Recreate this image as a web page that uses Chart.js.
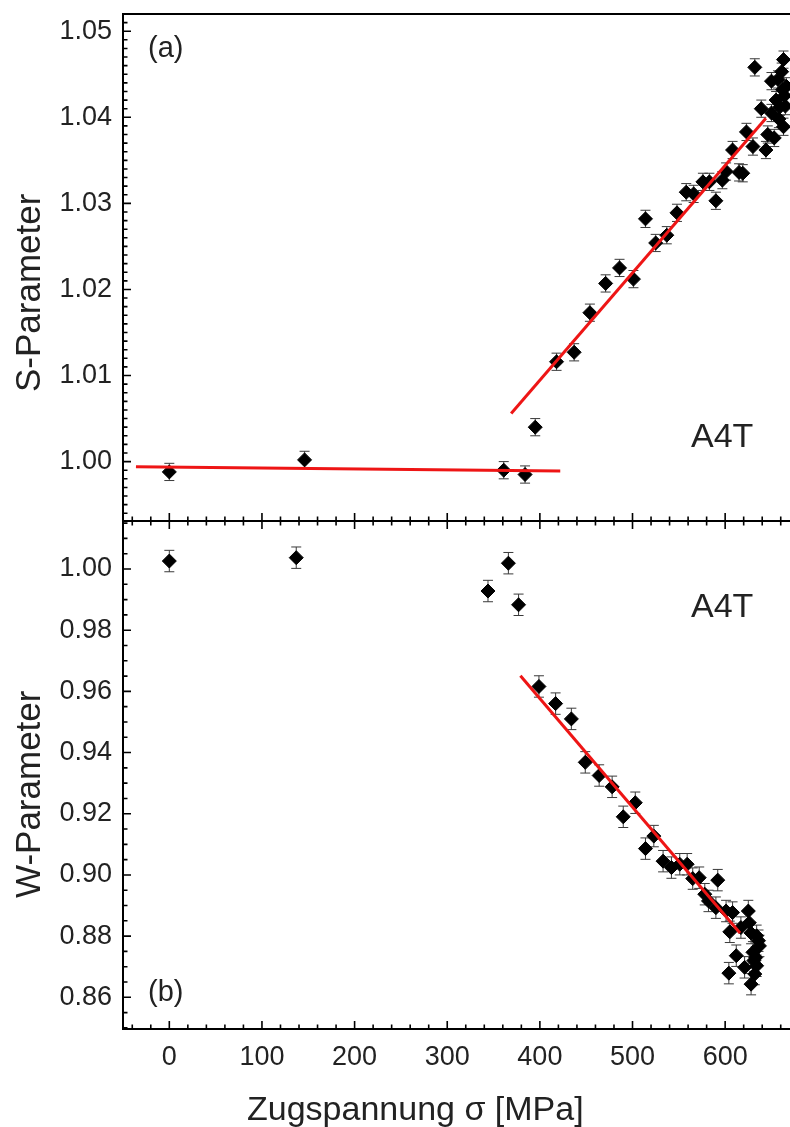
<!DOCTYPE html>
<html><head><meta charset="utf-8">
<script src="https://cdn.jsdelivr.net/npm/chart.js@4.4.1/dist/chart.umd.min.js"></script>
<style>
html,body{margin:0;padding:0;background:#fff;}
#wrap{position:relative;width:790px;height:1127px;overflow:hidden;background:#fff;}
#wrap canvas{position:absolute;left:0;top:0;}
</style></head><body>
<div id="wrap"><canvas id="cA" width="790" height="1127"></canvas><canvas id="cB" width="790" height="1127"></canvas></div>
<script>
// ---- data ----
const xTicks = [0, 100, 200, 300, 400, 500, 600];
const sTicks = [1.00, 1.01, 1.02, 1.03, 1.04, 1.05];
const wTicks = [0.86, 0.88, 0.90, 0.92, 0.94, 0.96, 0.98, 1.00];

const sigmaS = [0, 146, 361, 384, 395, 418, 437, 454, 471, 486, 501, 514, 525, 537, 548, 558, 566, 576, 583, 590, 597, 601, 608, 615, 619, 623, 630, 632, 639, 644, 646, 650, 650, 653, 655, 657, 659, 661, 662, 663, 663, 665, 666, 658, 664];
const sParam = [0.9988, 1.0002, 0.9990, 0.9985, 1.0040, 1.0116, 1.0127, 1.0173, 1.0207, 1.0225, 1.0212, 1.0282, 1.0254, 1.0263, 1.0289, 1.0313, 1.0311, 1.0325, 1.0325, 1.0303, 1.0327, 1.0337, 1.0362, 1.0336, 1.0335, 1.0383, 1.0366, 1.0458, 1.0410, 1.0362, 1.0380, 1.0442, 1.0405, 1.0376, 1.0420, 1.0444, 1.0412, 1.0453, 1.0432, 1.0467, 1.0389, 1.0413, 1.0436, 1.0398, 1.0425];
const sErrBar = 0.001;

const sigmaW = [0, 137, 344, 366, 377, 399, 417, 434, 449, 464, 478, 490, 503, 514, 523, 533, 542, 551, 559, 565, 572, 578, 582, 590, 592, 601, 604, 605, 608, 612, 617, 621, 625, 626, 628, 630, 632, 633, 634, 634, 636, 637, 631, 628];
const wParam = [1.0026, 1.0037, 0.9928, 1.0019, 0.9883, 0.9616, 0.9560, 0.9510, 0.9368, 0.9325, 0.9288, 0.9190, 0.9236, 0.9086, 0.9127, 0.9045, 0.9024, 0.9035, 0.9035, 0.8988, 0.8991, 0.8937, 0.8915, 0.8893, 0.8983, 0.8882, 0.8679, 0.8814, 0.8877, 0.8736, 0.8828, 0.8698, 0.8882, 0.8844, 0.8643, 0.8747, 0.8676, 0.8730, 0.8801, 0.8703, 0.8785, 0.8768, 0.8720, 0.8810];
const wErrBar = 0.0035;

const fitS1X = [-36, 422];
const fitS1Y = [0.9994, 0.9989];
const fitS2X = [369, 644];
const fitS2Y = [1.0056, 1.0399];
const fitWX = [379, 616];
const fitWY = [0.9651, 0.8810];

// ---- helpers ----
const FONT = "'Liberation Sans', Arial, Helvetica, sans-serif";
const RED = '#ee1515';
function pts(xs, ys) { return xs.map((x, i) => ({ x: x, y: ys[i] })); }

function minorX() { const a = []; for (let v = -40; v <= 660; v += 20) if (v % 100 !== 0) a.push(v); return a; }
function minorS() { const a = []; for (let i = 994; i <= 1051; i++) if (i % 10 !== 0) a.push(i / 1000); return a; }
function minorW() { const a = []; for (let i = 850; i <= 1015; i += 5) if (i % 20 !== 0) a.push(i / 1000); return a; }

function makePlugin(cfg) {
  return {
    id: 'panel_' + cfg.name,
    beforeDatasetsDraw(chart) {
      const ctx = chart.ctx, ys = chart.scales.y;
      const meta = chart.getDatasetMeta(cfg.dataIndex);
      const ds = chart.data.datasets[cfg.dataIndex];
      ctx.save();
      ctx.strokeStyle = '#3a3a3a';
      ctx.lineWidth = 1;
      meta.data.forEach((el, i) => {
        const v = ds.data[i].y;
        const x = el.x;
        const yt = ys.getPixelForValue(v + cfg.err), yb = ys.getPixelForValue(v - cfg.err);
        ctx.beginPath();
        ctx.moveTo(x, yt); ctx.lineTo(x, yb);
        ctx.moveTo(x - 5, yt); ctx.lineTo(x + 5, yt);
        ctx.moveTo(x - 5, yb); ctx.lineTo(x + 5, yb);
        ctx.stroke();
      });
      ctx.restore();
    },
    afterDraw(chart) {
      const ctx = chart.ctx, a = chart.chartArea, xs = chart.scales.x, ys = chart.scales.y;
      ctx.save();
      ctx.strokeStyle = '#000';
      ctx.lineCap = 'butt';
      // frame
      ctx.lineWidth = 2;
      ctx.beginPath();
      if (cfg.topLine) { ctx.moveTo(a.left - 1, a.top); ctx.lineTo(a.right, a.top); }
      ctx.moveTo(a.left, a.top); ctx.lineTo(a.left, a.bottom);
      ctx.moveTo(a.left - 1, a.bottom); ctx.lineTo(a.right, a.bottom);
      ctx.stroke();
      // ticks
      ctx.lineWidth = 1.6;
      ctx.beginPath();
      const MAJ = 8, MIN = 4.5;
      cfg.yMajor.forEach(v => { const y = ys.getPixelForValue(v); ctx.moveTo(a.left, y); ctx.lineTo(a.left + MAJ, y); });
      cfg.yMinor().forEach(v => { const y = ys.getPixelForValue(v); if (y > a.top + 1 && y < a.bottom - 1) { ctx.moveTo(a.left, y); ctx.lineTo(a.left + MIN, y); } });
      xTicks.forEach(v => { const x = xs.getPixelForValue(v); ctx.moveTo(x, a.bottom); ctx.lineTo(x, a.bottom - MAJ); });
      minorX().forEach(v => { const x = xs.getPixelForValue(v); if (x > a.left + 1) { ctx.moveTo(x, a.bottom); ctx.lineTo(x, a.bottom - MIN); } });
      if (cfg.topTicks) {
        xTicks.forEach(v => { const x = xs.getPixelForValue(v); ctx.moveTo(x, a.top); ctx.lineTo(x, a.top + MAJ); });
        minorX().forEach(v => { const x = xs.getPixelForValue(v); if (x > a.left + 1) { ctx.moveTo(x, a.top); ctx.lineTo(x, a.top + MIN); } });
      }
      ctx.stroke();
      // texts
      ctx.fillStyle = '#222';
      ctx.textAlign = 'left';
      ctx.textBaseline = 'alphabetic';
      cfg.texts.forEach(t => {
        ctx.save();
        ctx.font = t.size + 'px ' + FONT;
        ctx.translate(t.x, t.y);
        if (t.rot) ctx.rotate(-Math.PI / 2);
        ctx.fillText(t.text, 0, 0);
        ctx.restore();
      });
      ctx.restore();
    }
  };
}

function makeChart(id, cfg) {
  return new Chart(document.getElementById(id), {
    type: 'scatter',
    data: { datasets: cfg.datasets },
    options: {
      responsive: false,
      animation: false,
      events: [],
      layout: { padding: cfg.padding, autoPadding: false },
      plugins: { legend: { display: false }, tooltip: { enabled: false } },
      scales: {
        x: {
          type: 'linear', min: -50, max: 670,
          display: cfg.showX,
          grid: { display: false, drawTicks: false },
          border: { display: false },
          afterBuildTicks: s => { s.ticks = xTicks.map(v => ({ value: v })); },
          afterFit: s => { s.height = cfg.xHeight; s.paddingLeft = 0; s.paddingRight = 0; },
          ticks: { padding: 12, font: { family: FONT, size: 27 }, color: '#222', maxRotation: 0, autoSkip: false,
            callback: v => String(v) }
        },
        y: {
          type: 'linear', min: cfg.yMin, max: cfg.yMax,
          grid: { display: false, drawTicks: false },
          border: { display: false },
          afterBuildTicks: s => { s.ticks = cfg.yMajor.map(v => ({ value: v })); },
          afterFit: s => { s.width = 123; s.paddingTop = 0; s.paddingBottom = 0; },
          ticks: { padding: 11, font: { family: FONT, size: 27 }, color: '#222', autoSkip: false,
            callback: v => Number(v).toFixed(2) }
        }
      }
    },
    plugins: [makePlugin(cfg)]
  });
}

function pointDs(data) {
  return { data: data, pointStyle: 'rectRot', pointRadius: 7, pointBackgroundColor: '#000', pointBorderColor: '#000', pointBorderWidth: 1, showLine: false, order: 2 };
}
function fitDs(data) {
  return { data: data, showLine: true, borderColor: RED, borderWidth: 3, pointRadius: 0, fill: false, order: 1 };
}

makeChart('cA', {
  name: 'a',
  datasets: [pointDs(pts(sigmaS, sParam)), fitDs(pts(fitS1X, fitS1Y)), fitDs(pts(fitS2X, fitS2Y))],
  dataIndex: 0, err: sErrBar,
  padding: { top: 14, bottom: 606, left: 0, right: 0 },
  showX: false, xHeight: 0,
  yMin: 0.9931, yMax: 1.0520,
  yMajor: sTicks, yMinor: minorS,
  topLine: true, topTicks: false,
  texts: [
    { text: '(a)', x: 148, y: 57, size: 29 },
    { text: 'A4T', x: 691, y: 447, size: 34 },
    { text: 'S-Parameter', x: 40, y: 392, size: 35, rot: true }
  ]
});

makeChart('cB', {
  name: 'b',
  datasets: [pointDs(pts(sigmaW, wParam)), fitDs(pts(fitWX, fitWY))],
  dataIndex: 0, err: wErrBar,
  padding: { top: 521, bottom: 0, left: 0, right: 0 },
  showX: true, xHeight: 98,
  yMin: 0.84964, yMax: 1.01569,
  yMajor: wTicks, yMinor: minorW,
  topLine: true, topTicks: true,
  texts: [
    { text: '(b)', x: 148, y: 1001, size: 29 },
    { text: 'A4T', x: 691, y: 617, size: 34 },
    { text: 'W-Parameter', x: 40, y: 898, size: 35, rot: true },
    { text: 'Zugspannung \u03C3 [MPa]', x: 247, y: 1120, size: 34 }
  ]
});
</script>
</body></html>
